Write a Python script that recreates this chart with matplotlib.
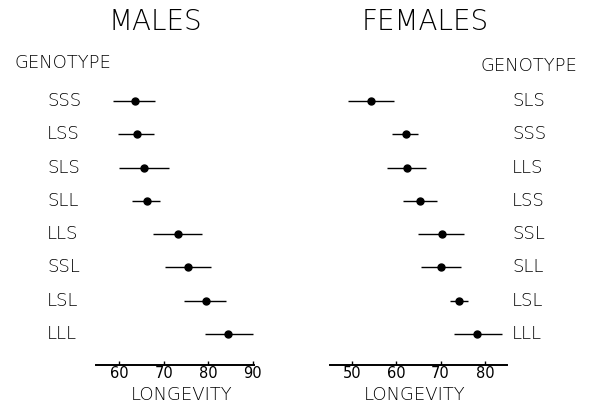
#!/usr/bin/env python3
"""
Longevity by genotype for males and females, mean with range bars.
"""

import matplotlib
matplotlib.use('Agg')
import matplotlib.pyplot as plt
from matplotlib.transforms import blended_transform_factory

# Males, ordered top to bottom
male_genotypes = ['SSS', 'LSS', 'SLS', 'SLL', 'LLS', 'SSL', 'LSL', 'LLL']
male_mean = [63.6, 64.0, 65.6, 66.3, 73.3, 75.5, 79.6, 84.5]
male_low = [58.7, 59.8, 60.0, 62.9, 67.6, 70.3, 74.6, 79.3]
male_high = [68.1, 67.9, 71.2, 69.2, 78.7, 80.7, 84.0, 90.1]
male_ticks = [60, 70, 80, 90]

# Females, ordered top to bottom
female_genotypes = ['SLS', 'SSS', 'LLS', 'LSS', 'SSL', 'SLL', 'LSL', 'LLL']
female_mean = [54.3, 62.1, 62.4, 65.3, 70.2, 70.1, 74.1, 78.3]
female_low = [49.1, 59.0, 57.9, 61.5, 64.8, 65.6, 72.2, 73.1]
female_high = [59.4, 64.8, 66.6, 69.1, 75.2, 74.5, 76.1, 83.9]
female_ticks = [50, 60, 70, 80]

W, H = 598, 404
FONT = 'DejaVu Sans'


def draw_panel(fig, left_px, right_px, xlim, means, lows, highs, ticks):
    """One panel: bottom axis only, dots with horizontal range lines."""
    bottom_px, top_px = 365, 85
    ax = fig.add_axes([left_px / W, 1 - bottom_px / H,
                       (right_px - left_px) / W, (bottom_px - top_px) / H])
    rows = list(range(len(means)))
    ax.hlines(rows, lows, highs, colors='black', linewidth=1.0)
    ax.plot(means, rows, 'o', color='black', markersize=5)
    ax.set_xlim(*xlim)
    ax.set_ylim(7.93, -0.48)
    for side in ('top', 'right', 'left'):
        ax.spines[side].set_visible(False)
    ax.spines['bottom'].set_linewidth(1.4)
    ax.set_yticks([])
    ax.set_xticks(ticks)
    ax.tick_params(axis='x', direction='in', length=3, width=1,
                   labelsize=10.5, pad=1)
    for lbl in ax.get_xticklabels():
        lbl.set_fontfamily(FONT)
    return ax


fig = plt.figure(figsize=(W / 100, H / 100), dpi=100)

ax_m = draw_panel(fig, 96, 254, (54.8, 90.3),
                  male_mean, male_low, male_high, male_ticks)
ax_f = draw_panel(fig, 330, 507, (45.0, 85.0),
                  female_mean, female_low, female_high, female_ticks)

# genotype names beside each row
tr_m = blended_transform_factory(fig.transFigure, ax_m.transData)
for i, g in enumerate(male_genotypes):
    ax_m.text(47 / W, i, g, transform=tr_m, ha='left', va='center',
              fontsize=13, family=FONT, fontweight='light')
tr_f = blended_transform_factory(fig.transFigure, ax_f.transData)
for i, g in enumerate(female_genotypes):
    ax_f.text(512 / W, i, g, transform=tr_f, ha='left', va='center',
              fontsize=13, family=FONT, fontweight='light')

# headings
fig.text(155 / W, 1 - 22 / H, 'MALES', ha='center', va='center',
         fontsize=20, family=FONT, fontweight='light')
fig.text(425 / W, 1 - 22 / H, 'FEMALES', ha='center', va='center',
         fontsize=20, family=FONT, fontweight='light')
fig.text(15 / W, 1 - 63 / H, 'GENOTYPE', ha='left', va='center',
         fontsize=13, family=FONT, fontweight='light')
fig.text(480 / W, 1 - 66 / H, 'GENOTYPE', ha='left', va='center',
         fontsize=13, family=FONT, fontweight='light')
fig.text(182 / W, 1 - 395 / H, 'LONGEVITY', ha='center', va='center',
         fontsize=13, family=FONT, fontweight='light')
fig.text(415 / W, 1 - 395 / H, 'LONGEVITY', ha='center', va='center',
         fontsize=13, family=FONT, fontweight='light')

fig.savefig('out.png', dpi=100)
plt.close(fig)
